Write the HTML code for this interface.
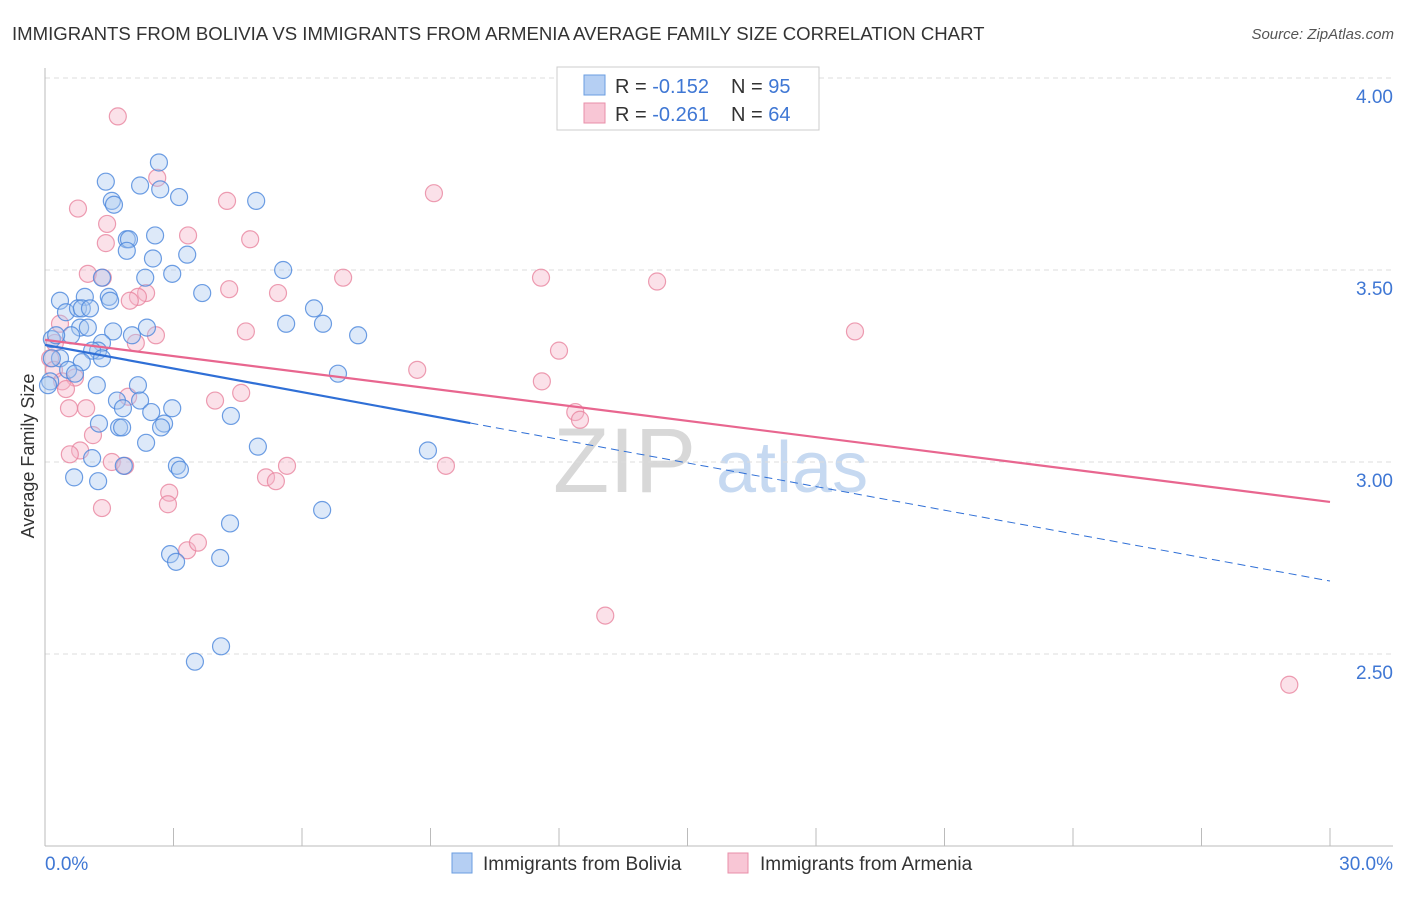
<!DOCTYPE html>
<html><head><meta charset="utf-8"><style>
body{margin:0;background:#fff;font-family:"Liberation Sans",sans-serif;}
svg text{font-family:"Liberation Sans",sans-serif;}
</style></head><body>
<svg id="chart" width="1406" height="892">
<text x="12" y="40" font-size="18.6" fill="#333">IMMIGRANTS FROM BOLIVIA VS IMMIGRANTS FROM ARMENIA AVERAGE FAMILY SIZE CORRELATION CHART</text>
<text x="1394" y="39" font-size="15" fill="#555" font-style="italic" text-anchor="end">Source: ZipAtlas.com</text>
<text transform="translate(34,456) rotate(-90)" font-size="18" fill="#333" text-anchor="middle">Average Family Size</text>
<g><text x="553" y="492" font-size="92" fill="#d8d8d8" font-family="Liberation Serif,serif">ZIP</text><text x="716" y="492" font-size="72" fill="#c6d9f1">atlas</text></g>
<g id="grid"></g><g id="marks"></g><g id="lines"></g>
<g>
<rect x="557" y="67" width="262" height="63" fill="#fff" stroke="#ccc"/>
<rect x="584" y="75" width="21" height="20" fill="#b5cff3" stroke="#6a9de0"/>
<text x="615" y="93" font-size="20" fill="#333">R = <tspan fill="#3f77d4">-0.152</tspan></text>
<text x="731" y="93" font-size="20" fill="#333">N = <tspan fill="#3f77d4">95</tspan></text>
<rect x="584" y="103" width="21" height="20" fill="#f8c6d5" stroke="#e88fa9"/>
<text x="615" y="121" font-size="20" fill="#333">R = <tspan fill="#3f77d4">-0.261</tspan></text>
<text x="731" y="121" font-size="20" fill="#333">N = <tspan fill="#3f77d4">64</tspan></text>
</g>
<g>
<rect x="452" y="853" width="20" height="20" fill="#b5cff3" stroke="#6a9de0"/>
<text x="483" y="870" font-size="19" fill="#333">Immigrants from Bolivia</text>
<rect x="728" y="853" width="20" height="20" fill="#f8c6d5" stroke="#e88fa9"/>
<text x="760" y="870" font-size="19" fill="#333">Immigrants from Armenia</text>
</g>
</svg>
<script>
const yTicks=[2.5,3.0,3.5,4.0];
const yTickLabels=["2.50","3.00","3.50","4.00"];
const xTickLabels=["0.0%","30.0%"];
const blueX=[2.66,1.42,2.22,3.13,2.69,1.56,1.61,4.93,1.91,2.57,1.96,1.91,3.32,2.52,5.56,2.97,2.34,1.33,3.67,1.49,0.93,0.35,1.52,0.49,0.77,0.86,1.05,6.28,5.63,6.49,7.31,0.82,1.00,2.38,1.59,2.03,0.61,0.16,0.26,1.33,1.24,6.84,1.10,0.35,0.16,1.33,0.86,0.54,0.70,1.21,2.17,0.12,0.07,1.68,2.22,1.82,2.48,2.97,4.34,2.78,2.71,1.26,1.73,1.80,2.36,4.97,8.94,1.10,1.84,3.08,3.15,0.68,1.24,6.47,4.32,2.92,3.06,4.09,4.11,3.50];
const blueY=[3.78,3.73,3.72,3.69,3.71,3.68,3.67,3.68,3.58,3.59,3.58,3.55,3.54,3.53,3.50,3.49,3.48,3.48,3.44,3.43,3.43,3.42,3.42,3.39,3.40,3.40,3.40,3.40,3.36,3.36,3.33,3.35,3.35,3.35,3.34,3.33,3.33,3.32,3.33,3.31,3.29,3.23,3.29,3.27,3.27,3.27,3.26,3.24,3.23,3.20,3.20,3.21,3.20,3.16,3.16,3.14,3.13,3.14,3.12,3.10,3.09,3.10,3.09,3.09,3.05,3.04,3.03,3.01,2.99,2.99,2.98,2.96,2.95,2.875,2.84,2.76,2.74,2.75,2.52,2.48];
const pinkX=[1.70,2.62,0.77,9.08,4.25,1.45,3.34,4.79,1.42,1.00,1.35,6.96,11.58,14.29,4.30,5.44,2.36,2.17,1.98,2.59,4.69,18.91,2.12,12.00,8.69,11.60,0.35,0.23,0.12,0.21,0.70,1.94,4.58,3.97,0.96,0.56,12.38,12.49,1.12,0.82,0.58,1.56,1.87,5.65,9.36,5.16,5.39,2.90,2.87,1.33,3.32,3.57,13.08,29.05,0.40,0.49];
const pinkY=[3.90,3.74,3.66,3.70,3.68,3.62,3.59,3.58,3.57,3.49,3.48,3.48,3.48,3.47,3.45,3.44,3.44,3.43,3.42,3.33,3.34,3.34,3.31,3.29,3.24,3.21,3.36,3.31,3.27,3.24,3.22,3.17,3.18,3.16,3.14,3.14,3.13,3.11,3.07,3.03,3.02,3.00,2.99,2.99,2.99,2.96,2.95,2.92,2.89,2.88,2.77,2.79,2.60,2.42,3.21,3.19];
const blueTrend=[3.305,2.690];
const blueSolidEnd=9.93;
const pinkTrend=[3.318,2.896];
const X0=45,X1=1330,YT=78,YB=846;
const sx=v=>X0+(v/30)*(X1-X0);
const sy=v=>YB-(v-2.0)/2.0*(YB-YT);
const NS="http://www.w3.org/2000/svg";
function mk(tag,attrs,parent){const e=document.createElementNS(NS,tag);for(const k in attrs)e.setAttribute(k,attrs[k]);parent.appendChild(e);return e;}
const grid=document.getElementById('grid'),marks=document.getElementById('marks'),lines=document.getElementById('lines');
yTicks.forEach((t,i)=>{
 const l=mk('line',{x1:X0,x2:1393,y1:sy(t),y2:sy(t),stroke:'#ddd','stroke-dasharray':'5,4'},grid);
 
 
 const tx=mk('text',{x:1393,y:sy(t)+25,'font-size':19,fill:'#3f77d4','text-anchor':'end'},grid);
 tx.textContent=yTickLabels[i];
 
 
});
const ax=mk('line',{x1:X0,x2:X0,y1:68,y2:YB,stroke:'#bbb'},grid);


const bx=mk('line',{x1:X0,x2:1393,y1:YB,y2:YB,stroke:'#bbb'},grid);


for(let i=0;i<=10;i++){const v=i*3;const t=mk('line',{x1:sx(v),x2:sx(v),y1:828,y2:YB,stroke:'#bbb'},grid);
 
 }
const xl0=mk('text',{x:X0,y:870,'font-size':19,fill:'#3f77d4'},grid);xl0.textContent=xTickLabels[0];


const xl1=mk('text',{x:1393,y:870,'font-size':19,fill:'#3f77d4','text-anchor':'end'},grid);xl1.textContent=xTickLabels[1];


function pts(xs,ys,fill,stroke,name){xs.forEach((x,i)=>{const c=mk('circle',{cx:sx(x),cy:sy(ys[i]),r:8.5,fill:fill,'fill-opacity':0.4,stroke:stroke,'stroke-width':1.2,'stroke-opacity':0.8},marks);
 
 });}
pts(pinkX,pinkY,'#f5b3c8','#e8849f','armenia-point');
pts(blueX,blueY,'#a9c8f0','#4a86dc','bolivia-point');
const bAt=x=>blueTrend[0]+(blueTrend[1]-blueTrend[0])*x/30;
const l1=mk('line',{x1:sx(0),y1:sy(pinkTrend[0]),x2:sx(30),y2:sy(pinkTrend[1]),stroke:'#e8668f','stroke-width':2.2},lines);


const l2=mk('line',{x1:sx(0),y1:sy(bAt(0)),x2:sx(blueSolidEnd),y2:sy(bAt(blueSolidEnd)),stroke:'#2f6fd6','stroke-width':2.2},lines);


const l3=mk('line',{x1:sx(blueSolidEnd),y1:sy(bAt(blueSolidEnd)),x2:sx(30),y2:sy(bAt(30)),stroke:'#2f6fd6','stroke-width':1,'stroke-dasharray':'8,5'},lines);


</script>
</body></html>
